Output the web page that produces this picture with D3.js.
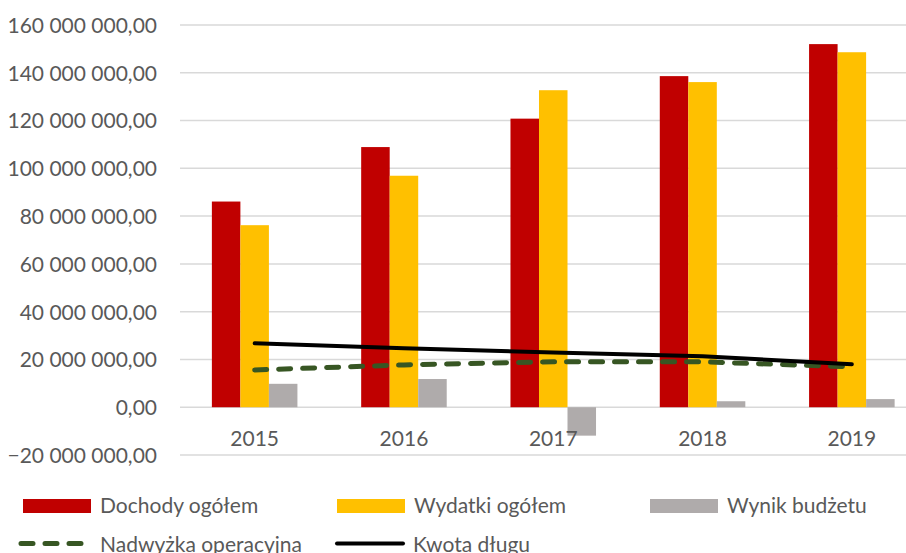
<!DOCTYPE html>
<html>
<head>
<meta charset="utf-8">
<script src="https://cdn.jsdelivr.net/npm/d3@7"></script>
<style>
  html, body { margin: 0; padding: 0; background: #fff; }
  svg { display: block; }
  text { font-family: Lato, "Open Sans", sans-serif; fill: #595959; }
</style>
</head>
<body>
<svg id="chart" width="906" height="553"></svg>
<script>
const years = ["2015", "2016", "2017", "2018", "2019"];
const dochody = [86.1e6, 108.9e6, 120.8e6, 138.6e6, 152.0e6];
const wydatki = [76.2e6, 96.9e6, 132.7e6, 136.1e6, 148.6e6];
const wynik = [9.8e6, 11.8e6, -11.9e6, 2.5e6, 3.4e6];
const nadwyzka = [15.6e6, 17.7e6, 19.0e6, 19.0e6, 16.9e6];
const dlug = [26.8e6, 24.7e6, 22.9e6, 21.3e6, 18.0e6];
const yTicks = [-20e6, 0, 20e6, 40e6, 60e6, 80e6, 100e6, 120e6, 140e6, 160e6];
const barSeries = ["Dochody ogółem", "Wydatki ogółem", "Wynik budżetu"];
const lineSeries = ["Nadwyżka operacyjna", "Kwota długu"];

const barData = [dochody, wydatki, wynik];
const barColors = ["#C00000", "#FFC000", "#AFABAB"];
const lineData = [nadwyzka, dlug];

const svg = d3.select("#chart");

const y = d3.scaleLinear().domain([-20e6, 160e6]).range([455, 25]);
const x0 = d3.scaleBand().domain(years).range([180, 926.5])
  .paddingInner(0.427).paddingOuter(0.2135);
const x1 = d3.scaleBand().domain(barSeries).range([0, x0.bandwidth()]);

const loc = d3.formatLocale({ decimal: ",", thousands: " ", grouping: [3], currency: ["", ""] });
const fmt = loc.format(",.2f");

// gridlines
const grid = svg.append("g");
grid.selectAll("line").data(yTicks).join("line")
  .attr("x1", 180).attr("x2", 906)
  .attr("y1", d => y(d)).attr("y2", d => y(d))
  .attr("stroke", "#D9D9D9").attr("stroke-width", 1.5);

// y axis labels
const yAxis = d3.axisLeft(y).tickValues(yTicks).tickFormat(fmt).tickSize(0).tickPadding(0);
const ya = svg.append("g").attr("transform", "translate(157,0)").call(yAxis);
ya.select(".domain").remove();
ya.selectAll("text").style("font-size", "21px").style("font-family", "Lato, sans-serif")
  .attr("fill", "#595959").attr("dy", "0.35em");

// bars
const bars = svg.append("g");
barData.forEach((vals, si) => {
  bars.append("g").selectAll("rect").data(vals).join("rect")
    .attr("x", (d, i) => x0(years[i]) + x1(barSeries[si]))
    .attr("width", x1.bandwidth())
    .attr("y", d => y(Math.max(0, d)))
    .attr("height", d => Math.abs(y(d) - y(0)))
    .attr("fill", barColors[si]);
});

// x axis labels
const xAxis = d3.axisBottom(x0).tickSize(0).tickPadding(0);
const xa = svg.append("g").attr("transform", "translate(0,430)").call(xAxis);
xa.select(".domain").remove();
xa.selectAll("text").style("font-size", "21px").style("font-family", "Lato, sans-serif")
  .attr("fill", "#595959").attr("dy", "0.75em");

// lines
const cx = (d, i) => x0(years[i]) + x0.bandwidth() / 2;
const line = d3.line().x(cx).y(d => y(d));
svg.append("path").datum(nadwyzka).attr("d", line)
  .attr("fill", "none").attr("stroke", "#375623").attr("stroke-width", 5)
  .attr("stroke-dasharray", "12,12").attr("stroke-linecap", "round");
svg.append("path").datum(dlug).attr("d", line)
  .attr("fill", "none").attr("stroke", "#000").attr("stroke-width", 4)
  .attr("stroke-linecap", "round");

// legend
const leg = svg.append("g");
const colX = [23, 337, 650];
barSeries.forEach((name, i) => {
  leg.append("rect").attr("x", colX[i]).attr("y", 499).attr("width", 68).attr("height", 14)
    .attr("fill", barColors[i]);
  leg.append("text").attr("x", colX[i] + 77).attr("y", 513)
    .style("font-size", "21px").text(name);
});
// line legend
leg.append("line").attr("x1", 23).attr("x2", 84).attr("y1", 543.5).attr("y2", 543.5)
  .attr("stroke", "#375623").attr("stroke-width", 5)
  .attr("stroke-dasharray", "12,12").attr("stroke-linecap", "round")
  .attr("transform", "translate(-2,0)");
leg.append("text").attr("x", 100).attr("y", 552).style("font-size", "21px").text(lineSeries[0]);
leg.append("line").attr("x1", 337).attr("x2", 403).attr("y1", 543.5).attr("y2", 543.5)
  .attr("stroke", "#000").attr("stroke-width", 4).attr("stroke-linecap", "round");
leg.append("text").attr("x", 413).attr("y", 552).style("font-size", "21px").text(lineSeries[1]);
</script>
</body>
</html>
